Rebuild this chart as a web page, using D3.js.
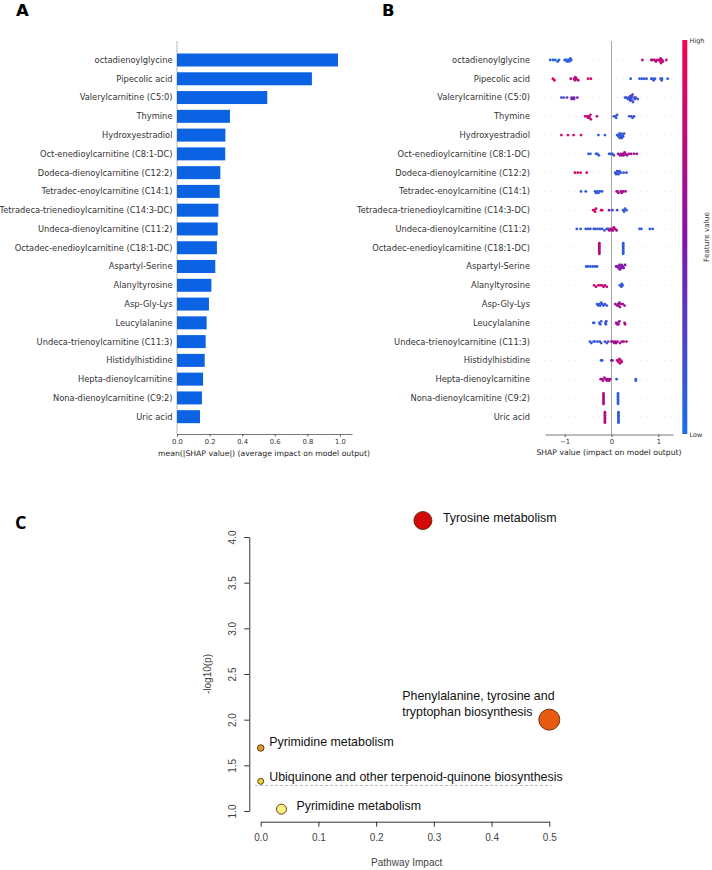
<!DOCTYPE html>
<html>
<head>
<meta charset="utf-8">
<script src="https://cdn.jsdelivr.net/npm/d3@7"></script>
<style>
body { margin: 0; background: #fff; }
</style>
</head>
<body>
<script>
var features = [
    "octadienoylglycine", "Pipecolic acid", "Valerylcarnitine (C5:0)", "Thymine",
    "Hydroxyestradiol", "Oct-enedioylcarnitine (C8:1-DC)", "Dodeca-dienoylcarnitine (C12:2)",
    "Tetradec-enoylcarnitine (C14:1)", "Tetradeca-trienedioylcarnitine (C14:3-DC)",
    "Undeca-dienoylcarnitine (C11:2)", "Octadec-enedioylcarnitine (C18:1-DC)", "Aspartyl-Serine",
    "Alanyltyrosine", "Asp-Gly-Lys", "Leucylalanine", "Undeca-trienoylcarnitine (C11:3)",
    "Histidylhistidine", "Hepta-dienoylcarnitine", "Nona-dienoylcarnitine (C9:2)", "Uric acid"
];
var meanAbsShap = [0.988, 0.828, 0.554, 0.325, 0.297, 0.296, 0.266, 0.262, 0.254, 0.250,
    0.245, 0.235, 0.211, 0.196, 0.182, 0.176, 0.170, 0.160, 0.153, 0.141];
var barTicks = [0, 0.2, 0.4, 0.6, 0.8, 1.0];
var shapTicks = [-1, 0, 1];

// [shap value, feature value (0 low .. 1 high)] for each feature row
var shapPoints = [
    [[-1.31,.05],[-1.25,.08],[-1.2,.05],[-1.15,.1],[-1.12,.05],[-1.0,.1],[-0.97,.05],[-0.95,.15],[-0.92,.1],[-0.9,.05],[-0.88,.1],[-0.86,.15],
     [0.66,.8],[0.85,.7],[0.88,.75],[0.92,.8],[0.95,.7],[0.98,.75],[1.02,.8],[1.04,.85],[1.05,.7],[1.06,.8],[1.08,.75],[1.1,.7],[1.17,.85]],
    [[-1.25,.95],[-1.22,.95],[-0.87,.8],[-0.8,.7],[-0.78,.75],[-0.77,.7],[-0.75,.8],[-0.71,.7],[-0.5,.9],[-0.44,.9],
     [0.41,.1],[0.6,.1],[0.65,.1],[0.7,.15],[0.75,.1],[0.85,.15],[0.88,.1],[0.9,.15],[0.93,.1],[1.05,.1],[1.07,.15],[1.08,.1],[1.2,.1]],
    [[-1.07,.2],[-1.02,.2],[-0.95,.25],[-0.85,.4],[-0.85,.45],[-0.8,.4],[-0.8,.45],[-0.73,.4],
     [0.29,.1],[0.32,.2],[0.35,.1],[0.37,.25],[0.38,.1],[0.4,.2],[0.4,.3],[0.42,.1],[0.42,.2],[0.43,.25],[0.44,.1],[0.45,.3],[0.46,.15],[0.48,.2],[0.5,.1],[0.52,.25],[0.56,.15]],
    [[-0.56,.8],[-0.52,.75],[-0.5,.8],[-0.48,.85],[-0.47,.75],[-0.45,.8],[-0.44,.8],[-0.31,.7],
     [0.05,.1],[0.08,.15],[0.1,.1],[0.12,.2],[0.38,.15],[0.42,.1],[0.45,.15],[0.48,.2]],
    [[-1.07,.9],[-0.93,.9],[-0.81,.85],[-0.65,.9],[-0.28,.1],[-0.14,.1],
     [0.12,.1],[0.14,.1],[0.15,.15],[0.17,.1],[0.18,.1],[0.19,.15],[0.2,.1],[0.21,.1],[0.22,.15],[0.24,.1],[0.25,.1],[0.27,.15]],
    [[-0.49,.1],[-0.45,.1],[-0.33,.1],[-0.3,.15],[-0.27,.1],[-0.05,.15],[-0.02,.1],[0.02,.15],[0.05,.2],
     [0.14,.5],[0.18,.65],[0.2,.6],[0.22,.7],[0.25,.65],[0.26,.6],[0.28,.7],[0.3,.65],[0.33,.6],[0.37,.7],[0.42,.6],[0.48,.65],[0.54,.6]],
    [[-0.78,.9],[-0.72,.85],[-0.66,.9],[-0.53,.9],
     [0.08,.1],[0.1,.15],[0.12,.2],[0.14,.1],[0.15,.15],[0.17,.2],[0.2,.1],[0.26,.15],[0.32,.2]],
    [[-0.65,.1],[-0.55,.1],[-0.35,.1],[-0.33,.15],[-0.3,.1],[-0.28,.1],[-0.25,.15],[-0.2,.1],
     [0.11,.65],[0.13,.7],[0.15,.6],[0.2,.65],[0.22,.7],[0.25,.6],[0.3,.65]],
    [[-0.39,.85],[-0.37,.9],[-0.35,.85],[-0.33,.8],[-0.22,.85],[-0.2,.9],[-0.05,.4],[0.02,.2],[0.12,.15],
     [0.25,.1],[0.27,.15],[0.29,.1],[0.32,.15]],
    [[-0.74,.1],[-0.66,.1],[-0.55,.15],[-0.5,.1],[-0.45,.2],[-0.38,.1],[-0.35,.15],[-0.3,.1],[-0.25,.2],[-0.2,.1],[-0.15,.15],[-0.1,.2],[-0.07,.1],
     [-0.05,.7],[-0.02,.75],[0,.6],[0.02,.8],[0.03,.7],[0.05,.65],[0.08,.75],[0.11,.6],[0.6,.1],[0.64,.1],[0.82,.1],[0.88,.1]],
    [[-0.26,.7],[-0.26,.65],[-0.26,.7],[-0.26,.75],[-0.26,.7],[-0.26,.65],[-0.26,.7],[-0.26,.75],
     [0.25,.1],[0.25,.1],[0.25,.15],[0.25,.1],[0.25,.1],[0.25,.15],[0.25,.1],[0.25,.1]],
    [[-0.54,.1],[-0.5,.1],[-0.45,.15],[-0.4,.1],[-0.35,.1],[-0.31,.15],
     [0.1,.5],[0.13,.45],[0.15,.5],[0.17,.55],[0.18,.45],[0.2,.5],[0.21,.5],[0.22,.45],[0.24,.5],[0.26,.55],[0.29,.5]],
    [[-0.37,.85],[-0.33,.9],[-0.28,.85],[-0.24,.8],[-0.2,.85],[-0.17,.8],[-0.14,.75],[-0.1,.7],
     [0.18,.1],[0.2,.15],[0.21,.1],[0.22,.1],[0.24,.15]],
    [[-0.31,.1],[-0.28,.1],[-0.26,.15],[-0.24,.1],[-0.22,.1],[-0.2,.15],[-0.17,.1],[-0.14,.2],[-0.1,.15],
     [0.08,.6],[0.12,.65],[0.14,.6],[0.15,.7],[0.17,.6],[0.18,.65],[0.2,.6],[0.24,.7],[0.28,.65]],
    [[-0.39,.1],[-0.37,.1],[-0.26,.1],[-0.24,.15],[-0.22,.1],[-0.13,.15],[-0.12,.1],[-0.11,.2],
     [0.1,.65],[0.12,.6],[0.14,.7],[0.15,.65],[0.17,.6],[0.28,.65],[0.29,.7]],
    [[-0.46,.1],[-0.43,.1],[-0.38,.15],[-0.36,.1],[-0.3,.2],[-0.25,.1],[-0.22,.15],[-0.14,.2],[-0.1,.15],[-0.07,.2],
     [0,.6],[0.03,.7],[0.06,.65],[0.08,.7],[0.1,.6],[0.13,.65],[0.18,.7],[0.22,.6],[0.26,.65],[0.32,.7]],
    [[-0.22,.1],[-0.2,.1],[0.0,.5],[0.02,.5],
     [0.12,.75],[0.14,.7],[0.15,.8],[0.17,.75],[0.18,.7],[0.2,.75],[0.22,.8]],
    [[-0.23,.65],[-0.2,.6],[-0.18,.7],[-0.15,.65],[-0.12,.6],[-0.1,.7],[-0.08,.65],[-0.05,.6],[-0.03,.7],
     [0.11,.1],[0.52,.1],[0.52,.1]],
    [[-0.17,.7],[-0.17,.75],[-0.17,.7],[-0.17,.65],[-0.17,.7],[-0.17,.75],[-0.17,.7],[-0.17,.65],
     [0.14,.1],[0.14,.1],[0.14,.15],[0.14,.1],[0.14,.1],[0.14,.15],[0.14,.1],[0.14,.1]],
    [[-0.14,.7],[-0.14,.75],[-0.14,.7],[-0.14,.65],[-0.14,.7],[-0.14,.75],[-0.14,.7],[-0.14,.65],
     [0.15,.1],[0.15,.1],[0.15,.15],[0.15,.1],[0.15,.1],[0.15,.15],[0.15,.1],[0.15,.1]]
];

var pathways = ["Tyrosine metabolism", "Phenylalanine, tyrosine and|tryptophan biosynthesis",
    "Pyrimidine metabolism", "Ubiquinone and other terpenoid-quinone biosynthesis", "Pyrimidine metabolism"];
var pathImpact = [0.281, 0.5, 0.0, 0.0, 0.036];
var pathLogP = [4.18, 2.0, 1.69, 1.325, 1.02];
var pathSize = [9, 10.5, 3.3, 3, 5];
var pathColor = ["#d40a0a", "#e85a10", "#dc9a30", "#e4d43a", "#fbf285"];
var yTicksC = [1.0, 1.5, 2.0, 2.5, 3.0, 3.5, 4.0];
var xTicksC = [0.0, 0.1, 0.2, 0.3, 0.4, 0.5];
var pThreshold = 1.28;

var w = 712;
var h = 870;

var svg = d3.select("body")
            .append("svg")
            .attr("width", w)
            .attr("height", h)
            .style("font-family", "DejaVu Sans, sans-serif");

var rowY = d3.scalePoint().domain(features).range([60, 416.7]);

// ---------- panel letters
svg.append("text").attr("x", 16).attr("y", 15.5).text("A")
    .style("font-size", "16.5px").style("font-weight", "bold");
svg.append("text").attr("x", 382).attr("y", 15.5).text("B")
    .style("font-size", "16.5px").style("font-weight", "bold");
svg.append("text").attr("x", 15).attr("y", 529).text("C")
    .style("font-family", "Open Sans, sans-serif")
    .style("font-size", "18px").style("font-weight", "bold");

// ---------- panel A: bar plot
var xA = d3.scaleLinear().domain([0, 1.074]).range([177, 352]);
var gA = svg.append("g");

gA.append("line")
    .attr("x1", xA(0)).attr("x2", xA(0))
    .attr("y1", 41).attr("y2", 434)
    .style("stroke", "#aaa").style("stroke-width", 0.8);

gA.selectAll("rect.bar")
    .data(meanAbsShap)
    .enter()
    .append("rect")
    .attr("class", "bar")
    .attr("x", xA(0))
    .attr("y", function(d, i) { return rowY(features[i]) - 6.5; })
    .attr("width", function(d) { return xA(d) - xA(0); })
    .attr("height", 13)
    .style("fill", "#0b63e3");

gA.selectAll("text.lab")
    .data(features)
    .enter()
    .append("text")
    .attr("class", "lab")
    .attr("x", 172.5)
    .attr("y", function(d) { return rowY(d); })
    .attr("dy", "0.35em")
    .attr("text-anchor", "end")
    .style("font-size", "8.3px")
    .style("fill", "#333")
    .text(function(d) { return d; });

var axA = gA.append("g")
    .attr("transform", "translate(0,434)")
    .call(d3.axisBottom(xA).tickValues(barTicks).tickFormat(d3.format(".1f")).tickSize(2.5).tickSizeOuter(0));
axA.select(".domain").style("stroke", "#555").style("stroke-width", 0.8);
axA.selectAll(".tick line").style("stroke", "#555");
axA.selectAll(".tick text").style("font-size", "6.8px").style("fill", "#333")
    .style("font-family", "DejaVu Sans, sans-serif").attr("y", 5);

gA.append("text")
    .attr("x", 264).attr("y", 455.5)
    .attr("text-anchor", "middle")
    .style("font-size", "7.7px").style("fill", "#222")
    .text("mean(|SHAP value|) (average impact on model output)");

// ---------- panel B: beeswarm
var xB = d3.scaleLinear().domain([-1.42, 1.314]).range([545, 673]);
var colorB = d3.scaleLinear()
    .domain([0, 0.5, 1])
    .range(["#1a70ea", "#8314a8", "#f2054f"]);
var gB = svg.append("g");

gB.selectAll("line.grid")
    .data(features)
    .enter()
    .append("line")
    .attr("class", "grid")
    .attr("x1", 545).attr("x2", 673)
    .attr("y1", function(d) { return rowY(d); })
    .attr("y2", function(d) { return rowY(d); })
    .style("stroke", "#ccc").style("stroke-width", 0.5)
    .style("stroke-dasharray", "1,5");

gB.append("line")
    .attr("x1", xB(0)).attr("x2", xB(0))
    .attr("y1", 41).attr("y2", 434)
    .style("stroke", "#999").style("stroke-width", 0.9);

function swarm(points, row) {
    var bins = d3.group(points, function(d) { return Math.round(xB(d[0]) / 2.6); });
    var out = [];
    var maxLayer = 0;
    bins.forEach(function(arr) {
        maxLayer = Math.max(maxLayer, Math.ceil((arr.length - 1) / 2));
    });
    var step = maxLayer > 4 ? 6 / maxLayer : 1.5;
    bins.forEach(function(arr) {
        arr.forEach(function(d, k) {
            var layer = Math.ceil(k / 2) * (k % 2 ? 1 : -1);
            out.push({ s: d[0], f: d[1], y: rowY(features[row]) + layer * step });
        });
    });
    return out;
}

var swarmData = [];
shapPoints.forEach(function(pts, i) {
    swarmData = swarmData.concat(swarm(pts, i));
});

gB.selectAll("circle.dot")
    .data(swarmData)
    .enter()
    .append("circle")
    .attr("class", "dot")
    .attr("cx", function(d) { return xB(d.s); })
    .attr("cy", function(d) { return d.y; })
    .attr("r", 1.4)
    .style("fill", function(d) { return colorB(d.f); });

gB.selectAll("text.lab")
    .data(features)
    .enter()
    .append("text")
    .attr("class", "lab")
    .attr("x", 530)
    .attr("y", function(d) { return rowY(d); })
    .attr("dy", "0.35em")
    .attr("text-anchor", "end")
    .style("font-size", "8.3px")
    .style("fill", "#333")
    .text(function(d) { return d; });

var axB = gB.append("g")
    .attr("transform", "translate(0,434.5)")
    .call(d3.axisBottom(xB).tickValues(shapTicks).tickFormat(function(d) { return d === -1 ? "\u22121" : d; }).tickSize(2.5).tickSizeOuter(0));
axB.select(".domain").style("stroke", "#555").style("stroke-width", 0.8);
axB.selectAll(".tick line").style("stroke", "#555");
axB.selectAll(".tick text").style("font-size", "6.8px").style("fill", "#333")
    .style("font-family", "DejaVu Sans, sans-serif").attr("y", 5);

gB.append("text")
    .attr("x", 609).attr("y", 455)
    .attr("text-anchor", "middle")
    .style("font-size", "7.7px").style("fill", "#222")
    .text("SHAP value (impact on model output)");

// colour bar
var defs = svg.append("defs");
var grad = defs.append("linearGradient")
    .attr("id", "cbar").attr("x1", 0).attr("x2", 0).attr("y1", 1).attr("y2", 0);
d3.range(0, 1.01, 0.1).forEach(function(t) {
    grad.append("stop").attr("offset", t).attr("stop-color", colorB(t));
});
gB.append("rect")
    .attr("x", 682.3).attr("y", 40).attr("width", 5).attr("height", 394)
    .style("fill", "url(#cbar)");
gB.append("text").attr("x", 689.5).attr("y", 42.5).text("High")
    .style("font-size", "6.5px").style("fill", "#333");
gB.append("text").attr("x", 689.5).attr("y", 436.5).text("Low")
    .style("font-size", "6.5px").style("fill", "#333");
gB.append("text")
    .attr("transform", "translate(708.5,237) rotate(-90)")
    .attr("text-anchor", "middle")
    .style("font-size", "7.3px").style("fill", "#333")
    .text("Feature value");

// ---------- panel C: pathway plot
var xC = d3.scaleLinear().domain([0, 0.5]).range([260.7, 549.3]);
var yC = d3.scaleLinear().domain([1, 4]).range([811, 537]);
var gC = svg.append("g").style("font-family", "Liberation Sans, Arial, sans-serif");

var axCy = gC.append("g")
    .attr("transform", "translate(249.3,0)")
    .call(d3.axisLeft(yC).tickValues(yTicksC).tickFormat(d3.format(".1f")).tickSize(5).tickSizeOuter(0));
var axCx = gC.append("g")
    .attr("transform", "translate(0,821.7)")
    .call(d3.axisBottom(xC).tickValues(xTicksC).tickFormat(d3.format(".1f")).tickSize(5).tickSizeOuter(0));
[axCy, axCx].forEach(function(ax) {
    ax.select(".domain").style("stroke", "#333").style("stroke-width", 1);
    ax.selectAll(".tick line").style("stroke", "#333").style("stroke-width", 1);
    ax.selectAll(".tick text").style("font-size", "10px").style("fill", "#444")
        .style("font-family", "Liberation Sans Narrow, Liberation Sans, sans-serif");
});
axCx.selectAll(".tick text").attr("y", 12.5);
axCy.selectAll(".tick text")
    .attr("x", null).attr("dy", null)
    .attr("text-anchor", "middle")
    .attr("transform", "translate(-13.5,0) rotate(-90)")
    .attr("y", 0);

gC.append("text")
    .attr("transform", "translate(211,674) rotate(-90)")
    .attr("text-anchor", "middle")
    .style("font-size", "10px").style("fill", "#444")
    .style("font-family", "Liberation Sans Narrow, Liberation Sans, sans-serif")
    .text("-log10(p)");
gC.append("text")
    .attr("x", 406.7).attr("y", 866)
    .attr("text-anchor", "middle")
    .style("font-size", "10px").style("fill", "#444")
    .style("font-family", "Liberation Sans Narrow, Liberation Sans, sans-serif")
    .text("Pathway Impact");

gC.append("line")
    .attr("x1", 255).attr("x2", 551.7)
    .attr("y1", yC(pThreshold)).attr("y2", yC(pThreshold))
    .style("stroke", "#bbb").style("stroke-width", 1)
    .style("stroke-dasharray", "3,2");

gC.selectAll("circle.path")
    .data(pathways)
    .enter()
    .append("circle")
    .attr("class", "path")
    .attr("cx", function(d, i) { return xC(pathImpact[i]); })
    .attr("cy", function(d, i) { return yC(pathLogP[i]); })
    .attr("r", function(d, i) { return pathSize[i]; })
    .style("fill", function(d, i) { return pathColor[i]; })
    .style("stroke", "#5a2a0a")
    .style("stroke-width", 0.9);

// label offsets relative to each circle: [dx, dy of first line centre]
var labelOffset = [[20, -3], [-147, -24], [8.5, -6], [8.5, -4.6], [15, -3.6]];
gC.selectAll("text.plab")
    .data(pathways)
    .enter()
    .append("text")
    .attr("class", "plab")
    .style("font-size", "12.4px")
    .style("fill", "#111")
    .each(function(d, i) {
        var t = d3.select(this);
        var x0 = xC(pathImpact[i]) + labelOffset[i][0];
        var y0 = yC(pathLogP[i]) + labelOffset[i][1];
        d.split("|").forEach(function(line, k) {
            t.append("tspan")
                .attr("x", x0)
                .attr("y", y0 + k * 15.7)
                .attr("dy", "0.35em")
                .text(line);
        });
    });
</script>
</body>
</html>
